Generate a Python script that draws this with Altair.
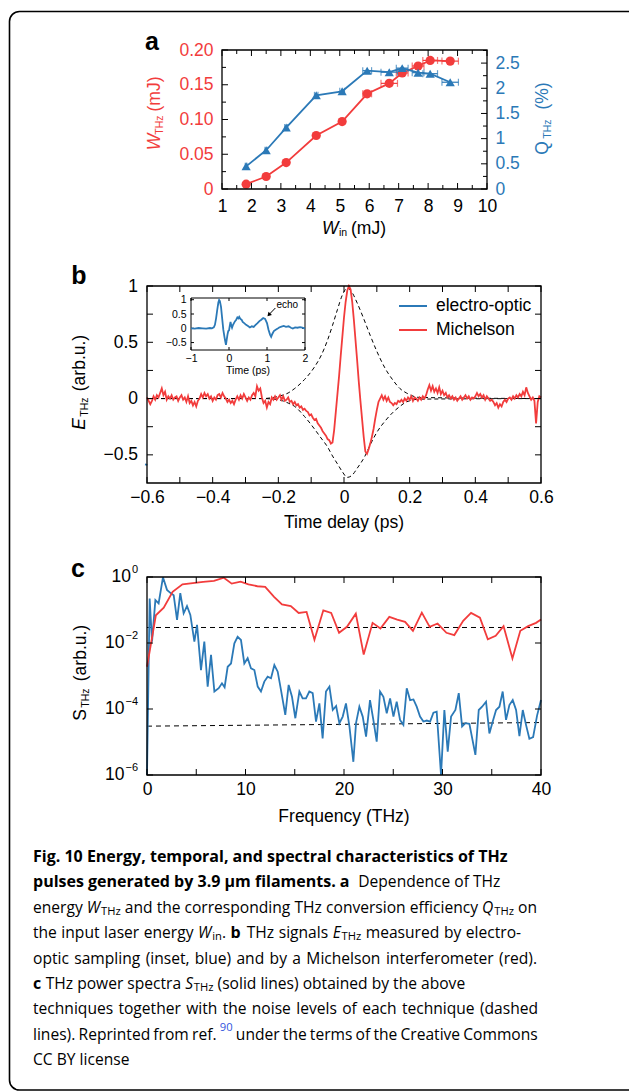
import altair as alt
import numpy as np
import pandas as pd

W, H = 629, 1092
RED = "#f23c3c"
BLUE = "#2b79b7"
PF = "Liberation Sans"
CF = "Open Sans"
LBL = 17.5

# ---------------- panel a data ----------------
A_WIN = [1.82, 2.50, 3.18, 4.20, 5.08, 5.93, 6.68, 7.12, 7.66, 8.07, 8.75]
A_WTHZ = [0.007, 0.018, 0.038, 0.077, 0.097, 0.137, 0.152, 0.167, 0.177, 0.185, 0.184]
A_QTHZ = [0.45, 0.77, 1.22, 1.86, 1.94, 2.35, 2.32, 2.40, 2.31, 2.29, 2.12]
A_XERR = [0.03, 0.04, 0.05, 0.06, 0.08, 0.15, 0.28, 0.20, 0.20, 0.25, 0.28]
A_X_TICKS = [1, 2, 3, 4, 5, 6, 7, 8, 9, 10]
A_X_MINOR = [1.5, 2.5, 3.5, 4.5, 5.5, 6.5, 7.5, 8.5, 9.5]
A_YL_TICKS = [0, 0.05, 0.10, 0.15, 0.20]
A_YL_MINOR = [0.025, 0.075, 0.125, 0.175]
A_YR_TICKS = [0, 0.5, 1, 1.5, 2, 2.5]
A_YR_MINOR = [0.25, 0.75, 1.25, 1.75, 2.25, 2.75]

# ---------------- panel b data ----------------
B_T_START, B_T_STEP = -0.6, 0.005
B_MICHELSON = [
    0.01, -0.02, -0.05, -0.02, 0.02, -0.01, 0.03, 0.01, 0.05, 0.09,
    0.03, 0.06, -0.01, 0.02, 0.00, 0.03, -0.01, 0.01, 0.02, -0.02,
    0.01, 0.03, -0.01, 0.01, -0.03, 0.02, -0.04, -0.02, -0.06, -0.03,
    -0.07, -0.02, 0.00, 0.04, 0.01, 0.05, 0.02, 0.04, 0.00, 0.02,
    -0.02, 0.01, -0.01, 0.03, 0.04, 0.01, 0.05, 0.02, 0.00, -0.03,
    -0.01, -0.04, -0.02, -0.05, -0.01, 0.02, -0.01, 0.03, 0.00, 0.04,
    0.01, -0.02, 0.01, -0.01, 0.03, 0.05, 0.02, 0.11, 0.07, 0.09,
    0.01, -0.04, -0.02, -0.08, -0.03, -0.05, 0.01, -0.01, 0.02, -0.01,
    0.01, 0.03, -0.01, 0.02, -0.02, -0.01, 0.01, -0.03, -0.02, -0.05,
    -0.03, -0.06, -0.05, -0.08, -0.07, -0.10, -0.09, -0.11, -0.12, -0.15,
    -0.14, -0.17, -0.19, -0.18, -0.22, -0.24, -0.26, -0.29, -0.31, -0.33,
    -0.36, -0.37, -0.40, -0.39, -0.28, -0.12, 0.04, 0.20, 0.38, 0.55,
    0.72, 0.86, 0.96, 1.00, 0.97, 0.86, 0.70, 0.52, 0.34, 0.15,
    -0.02, -0.18, -0.34, -0.47, -0.49, -0.45, -0.40, -0.34, -0.27, -0.18,
    -0.10, -0.03, 0.00, 0.03, -0.01, 0.02, -0.02, 0.01, -0.03, -0.04,
    -0.06, -0.04, -0.05, -0.02, -0.03, -0.01, -0.03, 0.00, -0.02, 0.01,
    -0.01, 0.02, -0.02, 0.01, 0.00, -0.02, 0.01, -0.01, 0.02, 0.00,
    0.03, 0.08, 0.12, 0.07, 0.11, 0.06, 0.09, 0.05, 0.10, 0.04,
    0.07, 0.03, 0.05, 0.01, 0.03, 0.00, 0.02, -0.01, 0.01, -0.02,
    0.00, 0.02, -0.01, 0.01, 0.03, 0.00, 0.02, -0.01, 0.01, 0.00,
    0.02, 0.05, 0.02, 0.04, 0.01, 0.03, -0.01, 0.02, 0.00, -0.02,
    -0.01, -0.03, -0.06, -0.04, -0.08, -0.05, -0.07, -0.03, -0.01, -0.03,
    0.00, 0.01, -0.01, 0.02, 0.00, 0.03, 0.01, 0.04, 0.02, 0.06,
    0.03, 0.10, 0.05, 0.02, -0.01, 0.01, -0.02, -0.22, -0.03, 0.02,
    0.01,
]
B_TIME = [round(B_T_START + i * B_T_STEP, 3) for i in range(len(B_MICHELSON))]
B_EO_T = [-0.606, -0.599]
B_EO_E = [-0.585, -0.59]
B_ENV_T = [-0.6, -0.25, -0.2, -0.17, -0.15, -0.12, -0.09, -0.07, -0.05, -0.035, -0.02,
           -0.005, 0.01, 0.025, 0.04, 0.064, 0.08, 0.1, 0.125, 0.15, 0.17, 0.19, 0.23, 0.6]
B_ENV_UP = [0, 0, 0.02, 0.05, 0.09, 0.17, 0.28, 0.38, 0.52, 0.65, 0.79,
            0.92, 0.98, 0.94, 0.85, 0.68, 0.56, 0.42, 0.27, 0.16, 0.09, 0.05, 0.01, 0]
B_ENV_LO = [0, 0, -0.01, -0.04, -0.07, -0.16, -0.27, -0.35, -0.43, -0.51, -0.58,
            -0.65, -0.70, -0.68, -0.62, -0.51, -0.41, -0.30, -0.20, -0.12, -0.07, -0.03, -0.005, 0]
B_X_TICKS = [-0.6, -0.4, -0.2, 0, 0.2, 0.4, 0.6]
B_X_MINOR = [-0.5, -0.3, -0.1, 0.1, 0.3, 0.5]
B_Y_TICKS = [-0.5, 0, 0.5, 1]
B_Y_MINOR = [-0.25, 0.25, 0.75]

INSET_T = [-1.0, -0.9, -0.8, -0.7, -0.6, -0.5, -0.45, -0.4, -0.37, -0.34, -0.31, -0.28, -0.26,
           -0.24, -0.21, -0.18, -0.15, -0.12, -0.1, -0.08, -0.06, -0.04, -0.02, 0.0, 0.02, 0.04,
           0.06, 0.08, 0.1, 0.13, 0.16, 0.19, 0.22, 0.25, 0.27, 0.3, 0.33, 0.36, 0.4, 0.45, 0.5,
           0.55, 0.6, 0.65, 0.7, 0.75, 0.8, 0.85, 0.9, 0.95, 1.0, 1.04, 1.08, 1.11, 1.14, 1.18,
           1.22, 1.27, 1.32, 1.38, 1.44, 1.5, 1.57, 1.63, 1.68, 1.74, 1.8, 1.87, 1.93, 2.0]
INSET_E = [0.0, -0.01, 0.01, 0.0, -0.01, 0.01, 0.0, 0.03, 0.12, 0.35, 0.64, 0.9, 0.99,
           0.95, 0.75, 0.35, -0.05, -0.3, -0.45, -0.58, -0.4, -0.22, -0.1, -0.08, 0.08, 0.22,
           0.1, 0.02, 0.1, 0.18, 0.25, 0.3, 0.38, 0.35, 0.4, 0.33, 0.3, 0.22, 0.18, 0.12, 0.08,
           0.03, 0.07, 0.05, 0.12, 0.18, 0.25, 0.3, 0.36, 0.33, 0.18, -0.05, -0.22, -0.3, -0.2, -0.1,
           -0.06, -0.02, 0.03, 0.06, 0.08, 0.05, 0.07, 0.02, -0.01, 0.03, 0.02, 0.04, 0.02, -0.01]
INSET_TICKS_X = [-1, 0, 1, 2]
INSET_TICKS_Y = [-0.5, 0, 0.5, 1]

# ---------------- panel c data (log10 of spectra) ----------------
C_MICH_F = [0, 0.9, 1.7, 2.6, 3.6, 5.7, 6.8, 7.8, 8.6, 9.5, 10.3, 11.2, 12.0, 12.9, 13.7, 14.6,
            15.4, 16.2, 17.0, 17.9, 18.7, 19.5, 20.3, 21.2, 22.0, 22.9, 23.7, 24.6, 25.4, 26.2,
            27.0, 27.9, 28.7, 29.5, 30.4, 31.2, 32.1, 32.9, 33.8, 34.6, 35.4, 36.2, 37.1, 37.9,
            38.7, 39.5, 40.0]
C_MICH_LOG = [-2.72, -1.16, -0.93, -0.45, -0.22, -0.15, -0.12, -0.02, -0.2, -0.14, -0.22, -0.28,
              -0.3, -0.6, -0.83, -0.88, -1.09, -1.06, -1.9, -1.01, -1.09, -1.69, -1.51, -1.11,
              -2.35, -1.39, -1.56, -1.21, -1.29, -1.36, -1.63, -1.08, -1.51, -1.41, -1.69, -1.76,
              -1.33, -1.09, -1.23, -1.89, -1.78, -1.49, -2.47, -1.63, -1.49, -1.39, -1.29]
C_EO_F = [0, 0.27, 0.51, 0.85, 1.18, 1.62, 2.03, 2.37, 2.71, 3.05, 3.38, 3.72, 4.06, 4.40, 4.81,
          5.08, 5.48, 5.82, 6.16, 6.50, 6.84, 7.28, 7.61, 7.88, 8.19, 8.53, 8.87, 9.20, 9.54, 9.88,
          10.22, 10.56, 10.90, 11.24, 11.57, 11.91, 12.25, 12.59, 12.93, 13.27, 13.60, 14.04,
          14.38, 14.72, 15.06, 15.47, 15.80, 16.14, 16.48, 16.82, 17.16, 17.50, 17.83, 18.17,
          18.52, 18.86, 19.2, 19.53, 19.87, 20.2, 20.55, 20.95, 21.22, 21.56, 21.9, 22.24, 22.64,
          22.98, 23.32, 23.66, 24.0, 24.34, 24.68, 25.02, 25.35, 25.69, 26.03, 26.37, 26.71,
          27.05, 27.38, 27.72, 28.06, 28.4, 28.74, 29.08, 29.41, 29.85, 30.19, 30.53, 30.87,
          31.31, 31.65, 31.99, 32.32, 32.73, 33.34, 33.68, 34.02, 34.42, 34.76, 35.1, 35.44,
          35.78, 36.11, 36.45, 36.79, 37.13, 37.47, 37.81, 38.15, 38.48, 38.82, 39.2, 39.6, 40.0]
C_EO_LOG = [-6.0, -0.65, -1.96, -0.70, -0.80, -0.01, -0.39, -0.48, -0.55, -1.30, -0.49, -1.10,
            -0.88, -1.15, -1.96, -1.45, -2.82, -1.96, -3.32, -2.36, -3.47, -3.37, -3.22, -3.34,
            -2.72, -2.62, -2.01, -1.81, -1.91, -2.62, -2.46, -2.77, -2.82, -3.32, -3.47, -3.17,
            -3.02, -3.07, -2.67, -2.87, -3.42, -4.18, -3.27, -3.63, -4.28, -3.47, -3.68, -3.68,
            -3.47, -3.52, -4.38, -3.83, -4.89, -3.47,
            -3.32, -4.03, -3.91, -4.43, -4.23, -3.83, -4.53, -5.60, -4.43, -3.93, -4.23, -4.84,
            -3.73, -4.33, -4.99, -3.47, -3.63, -4.13, -3.68, -4.23, -3.78, -4.33, -4.48, -3.37,
            -3.73, -3.71, -3.93, -4.23, -4.38, -4.35, -4.38, -4.11, -4.08, -6.0, -4.03, -5.29,
            -4.23, -4.03, -3.52, -4.53, -4.43, -4.45, -5.39, -4.03, -3.93, -3.78, -4.74, -4.38,
            -4.03, -3.93, -3.47, -4.33, -3.88, -3.73, -4.03, -4.82, -4.03, -4.48, -4.9, -4.85,
            -4.2, -3.73]
C_NOISE_F = [0, 40]
C_NOISE_MICH_LOG = [-1.53, -1.53]
C_NOISE_EO_LOG = [-4.52, -4.41]
C_X_TICKS = [0, 10, 20, 30, 40]
C_X_MINOR = [5, 15, 25, 35]
C_Y_DECADES = [0, -2, -4, -6]

# ---------------- geometry (plot areas, pixels) ----------------
A_PX, A_PY = [222, 487], [189, 50]
B_PX, B_PY = [147, 541], [483, 286]
I_PX, I_PY = [191, 305], [350, 298]
C_PX, C_PY = [147, 541], [775, 577]


def lin(dom, rng):
    return alt.Scale(domain=dom, range=rng, nice=False, zero=False)


AX, AYL, AYR = lin([1, 10], A_PX), lin([0, 0.2], A_PY), lin([0, 2.76], A_PY)
BX, BY = lin([-0.6, 0.6], B_PX), lin([-0.75, 1.0], B_PY)
IX, IY = lin([-1, 2], I_PX), lin([-0.76, 1.06], I_PY)
CX = lin([0, 40], C_PX)
CY = alt.Scale(type="log", domain=[1e-6, 1], range=C_PY, nice=False)


def lab_axis(orient, offset, values, size=LBL, color="black", pad=8, expr="format(datum.value, '~g')"):
    return alt.Axis(orient=orient, offset=offset, values=values, labelFontSize=size, labelFont=PF,
                    labelColor=color, labelPadding=pad, domain=False, ticks=False, grid=False,
                    title=None, labelExpr=expr, labelFlush=False, labelOverlap=False)


def box(xs, ys, xd, yd, xaxis=None, yaxis=None, white=False, sw=1.3):
    df = pd.DataFrame({"x0": [xd[0]], "x1": [xd[1]], "y0": [yd[0]], "y1": [yd[1]]})
    mk = dict(stroke="black", strokeWidth=sw)
    if white:
        mk["fill"] = "white"
    else:
        mk["fillOpacity"] = 0
    return alt.Chart(df).mark_rect(**mk).encode(
        x=alt.X("x0:Q", scale=xs, axis=xaxis), x2="x1:Q",
        y=alt.Y("y0:Q", scale=ys, axis=yaxis), y2="y1:Q")


def xticks(vals, xs, y_edge, length):
    return alt.Chart(pd.DataFrame({"v": vals})).mark_rule(color="black", strokeWidth=1).encode(
        x=alt.X("v:Q", scale=xs, axis=None), y=alt.value(y_edge), y2=alt.value(y_edge + length))


def yticks(vals, ys, x_edge, length, axis=None):
    return alt.Chart(pd.DataFrame({"v": vals})).mark_rule(color="black", strokeWidth=1).encode(
        y=alt.Y("v:Q", scale=ys, axis=axis), x=alt.value(x_edge), x2=alt.value(x_edge + length))


def ptext(rows, **mk):
    df = pd.DataFrame(rows, columns=["x", "y", "text"])
    return alt.Chart(df).mark_text(**mk).encode(
        x=alt.X("x:Q", scale=None, axis=None), y=alt.Y("y:Q", scale=None, axis=None), text="text:N")


layers = []

# frame
layers.append(alt.Chart(pd.DataFrame({"k": [0]})).mark_rect(
    cornerRadius=10, fillOpacity=0, stroke="black", strokeWidth=1.6).encode(
    x=alt.value(9.5), x2=alt.value(720), y=alt.value(11.5), y2=alt.value(1090)))

# ================= panel a =================
dfa = pd.DataFrame({"win": A_WIN, "w": A_WTHZ, "q": A_QTHZ,
                    "lo": [a - e for a, e in zip(A_WIN, A_XERR)],
                    "hi": [a + e for a, e in zip(A_WIN, A_XERR)]})
for field, ys, color, shape in [("w", AYL, RED, "circle"), ("q", AYR, BLUE, "triangle-up")]:
    base = alt.Chart(dfa)
    layers.append(base.mark_rule(color=color, strokeWidth=1.2).encode(
        x=alt.X("lo:Q", scale=AX, axis=None), x2="hi:Q", y=alt.Y(f"{field}:Q", scale=ys, axis=None)))
    for end in ["lo", "hi"]:
        layers.append(base.mark_tick(orient="vertical", color=color, size=7, thickness=1.2).encode(
            x=alt.X(f"{end}:Q", scale=AX, axis=None), y=alt.Y(f"{field}:Q", scale=ys, axis=None)))
    layers.append(base.mark_line(color=color, strokeWidth=1.8).encode(
        x=alt.X("win:Q", scale=AX, axis=None), y=alt.Y(f"{field}:Q", scale=ys, axis=None)))
    layers.append(base.mark_point(shape=shape, filled=True, size=85, color=color, opacity=1).encode(
        x=alt.X("win:Q", scale=AX, axis=None), y=alt.Y(f"{field}:Q", scale=ys, axis=None)))

layers.append(box(AX, AYL, [1, 10], [0, 0.2],
                  xaxis=lab_axis("bottom", A_PY[0] - H, A_X_TICKS, pad=8.5),
                  yaxis=lab_axis("left", -A_PX[0], A_YL_TICKS, color=RED, pad=9,
                                 expr="datum.value == 0 ? '0' : format(datum.value, '.2f')")))
layers += [xticks(A_X_TICKS, AX, A_PY[0], -6), xticks(A_X_MINOR, AX, A_PY[0], -4),
           xticks(A_X_TICKS, AX, A_PY[1], 6), xticks(A_X_MINOR, AX, A_PY[1], 4),
           yticks(A_YL_TICKS, AYL, A_PX[0], 6), yticks(A_YL_MINOR, AYL, A_PX[0], 4),
           yticks(A_YR_TICKS, AYR, A_PX[1], -6,
                  axis=lab_axis("right", A_PX[1] - W, A_YR_TICKS, color=BLUE, pad=8)),
           yticks(A_YR_MINOR, AYR, A_PX[1], -4)]

# ================= panel b =================
dfe = pd.DataFrame({"t": B_ENV_T, "up": B_ENV_UP, "lo": B_ENV_LO})
for f in ["up", "lo"]:
    layers.append(alt.Chart(dfe).mark_line(color="black", strokeWidth=1, strokeDash=[4, 3],
                                           interpolate="monotone").encode(
        x=alt.X("t:Q", scale=BX, axis=None), y=alt.Y(f"{f}:Q", scale=BY, axis=None)))

dfb = pd.DataFrame({"t": B_TIME + B_EO_T, "e": B_MICHELSON + B_EO_E,
                    "series": ["Michelson"] * len(B_MICHELSON) + ["electro-optic"] * len(B_EO_T)})
layers.append(alt.Chart(dfb).mark_line(strokeWidth=1.8).encode(
    x=alt.X("t:Q", scale=BX, axis=None), y=alt.Y("e:Q", scale=BY, axis=None),
    color=alt.Color("series:N", scale=alt.Scale(domain=["electro-optic", "Michelson"], range=[BLUE, RED]),
                    legend=alt.Legend(orient="none", legendX=398, legendY=291, title=None,
                                      symbolType="stroke", symbolSize=784, symbolStrokeWidth=2,
                                      labelFontSize=LBL, labelFont=PF, labelColor="black",
                                      labelOffset=8, rowPadding=0, padding=0, labelLimit=300))))

layers.append(box(BX, BY, [-0.6, 0.6], [-0.75, 1.0],
                  xaxis=lab_axis("bottom", B_PY[0] - H, B_X_TICKS, pad=5.5),
                  yaxis=lab_axis("left", -B_PX[0], B_Y_TICKS, pad=9.5)))
layers += [xticks(B_X_TICKS, BX, B_PY[0], -6), xticks(B_X_MINOR, BX, B_PY[0], -6),
           xticks(B_X_TICKS, BX, B_PY[1], 6), xticks(B_X_MINOR, BX, B_PY[1], 6),
           yticks(B_Y_TICKS, BY, B_PX[0], 6), yticks(B_Y_MINOR, BY, B_PX[0], 6),
           yticks(B_Y_TICKS, BY, B_PX[1], -6), yticks(B_Y_MINOR, BY, B_PX[1], -6)]

# inset
layers.append(box(IX, IY, [-1, 2], [-0.76, 1.06], white=True, sw=1,
                  xaxis=lab_axis("bottom", I_PY[0] - H, INSET_TICKS_X, size=10.5, pad=3.5),
                  yaxis=lab_axis("left", -I_PX[0], INSET_TICKS_Y, size=10.5, pad=5)))
layers += [xticks(INSET_TICKS_X, IX, I_PY[0], -3), xticks(INSET_TICKS_X, IX, I_PY[1], 3),
           yticks(INSET_TICKS_Y, IY, I_PX[0], 3), yticks(INSET_TICKS_Y, IY, I_PX[1], -3)]
dfi = pd.DataFrame({"t": INSET_T, "e": INSET_E})
layers.append(alt.Chart(dfi).mark_line(color=BLUE, strokeWidth=1.8).encode(
    x=alt.X("t:Q", scale=IX, axis=None), y=alt.Y("e:Q", scale=IY, axis=None)))
dfarrow = pd.DataFrame({"t": [1.22, 1.06], "e": [0.71, 0.49]})
layers.append(alt.Chart(dfarrow).mark_line(color="black", strokeWidth=1).encode(
    x=alt.X("t:Q", scale=IX, axis=None), y=alt.Y("e:Q", scale=IY, axis=None)))
layers.append(alt.Chart(pd.DataFrame({"t": [1.06], "e": [0.49]})).mark_point(
    shape="triangle", filled=True, size=22, color="black", opacity=1, angle=223).encode(
    x=alt.X("t:Q", scale=IX, axis=None), y=alt.Y("e:Q", scale=IY, axis=None)))
layers.append(alt.Chart(pd.DataFrame({"t": [1.25], "e": [0.8], "s": ["echo"]})).mark_text(
    font=PF, fontSize=10, align="left", baseline="middle").encode(
    x=alt.X("t:Q", scale=IX, axis=None), y=alt.Y("e:Q", scale=IY, axis=None), text="s:N"))
layers.append(ptext([(248, 371, "Time (ps)")], font=PF, fontSize=10.5, align="center", baseline="middle"))

# ================= panel c =================
dfn = pd.DataFrame({"f": C_NOISE_F, "m": [10 ** v for v in C_NOISE_MICH_LOG],
                    "e": [10 ** v for v in C_NOISE_EO_LOG]})
for f in ["m", "e"]:
    layers.append(alt.Chart(dfn).mark_line(color="black", strokeWidth=1, strokeDash=[5, 4]).encode(
        x=alt.X("f:Q", scale=CX, axis=None), y=alt.Y(f"{f}:Q", scale=CY, axis=None)))
dfc_eo = pd.DataFrame({"f": C_EO_F, "s": [10 ** v for v in C_EO_LOG]})
dfc_m = pd.DataFrame({"f": C_MICH_F, "s": [10 ** v for v in C_MICH_LOG]})
layers.append(alt.Chart(dfc_eo).mark_line(color=BLUE, strokeWidth=1.8).encode(
    x=alt.X("f:Q", scale=CX, axis=None), y=alt.Y("s:Q", scale=CY, axis=None)))
layers.append(alt.Chart(dfc_m).mark_line(color=RED, strokeWidth=1.8).encode(
    x=alt.X("f:Q", scale=CX, axis=None), y=alt.Y("s:Q", scale=CY, axis=None)))
layers.append(box(CX, CY, [0, 40], [1e-6, 1],
                  xaxis=lab_axis("bottom", C_PY[0] - H, C_X_TICKS, pad=5.5)))
dec_vals = [10.0 ** d for d in C_Y_DECADES]
layers += [xticks(C_X_TICKS, CX, C_PY[0], -6), xticks(C_X_MINOR, CX, C_PY[0], -6),
           xticks(C_X_TICKS, CX, C_PY[1], 6), xticks(C_X_MINOR, CX, C_PY[1], 6),
           yticks(dec_vals, CY, C_PX[0], 6), yticks(dec_vals, CY, C_PX[1], -6)]
exp_txt = ["0" if d == 0 else "\u2212" + str(-d) for d in C_Y_DECADES]
dfy = pd.DataFrame({"v": dec_vals, "base": ["10"] * 4, "exp": exp_txt,
                    "bx": [131.0 if d == 0 else 124.5 for d in C_Y_DECADES]})
layers.append(alt.Chart(dfy).mark_text(font=PF, fontSize=LBL, align="right", baseline="middle").encode(
    x=alt.X("bx:Q", scale=None, axis=None), y=alt.Y("v:Q", scale=CY, axis=None), text="base:N"))
layers.append(alt.Chart(dfy).mark_text(font=PF, fontSize=11, align="right", baseline="middle", dy=-7).encode(
    x=alt.value(138), y=alt.Y("v:Q", scale=CY, axis=None), text="exp:N"))

# ================= titles & panel letters =================
layers.append(ptext([(152, 42, "a"), (79, 276, "b"), (78, 569, "c")],
                    font=PF, fontSize=25, fontWeight="bold", align="center", baseline="middle"))
# rotated y titles (panel b, c: black)
layers.append(ptext([(80, 424, "E")], font=PF, fontSize=LBL, fontStyle="italic",
                    angle=270, align="center", baseline="middle"))
layers.append(ptext([(81, 715, "S")], font=PF, fontSize=LBL, angle=270, align="center", baseline="middle"))
layers.append(ptext([(80, 363, "(arb.u.)"), (81, 653, "(arb.u.)")],
                    font=PF, fontSize=LBL, angle=270, align="center", baseline="middle"))
layers.append(ptext([(85, 407, "THz"), (86, 698, "THz")],
                    font=PF, fontSize=10.5, angle=270, align="center", baseline="middle"))
# panel a y titles (red left, blue right)
layers.append(ptext([(155, 142, "W")], font=PF, fontSize=LBL, fontStyle="italic", angle=270,
                    align="center", baseline="middle", color=RED))
layers.append(ptext([(155, 94, "(mJ)")], font=PF, fontSize=LBL, angle=270, align="center",
                    baseline="middle", color=RED))
layers.append(ptext([(160, 125, "THz")], font=PF, fontSize=10.5, angle=270, align="center",
                    baseline="middle", color=RED))
layers.append(ptext([(543, 148, "Q"), (543, 96, "(%)")], font=PF, fontSize=LBL, angle=270,
                    align="center", baseline="middle", color=BLUE))
layers.append(ptext([(548, 129, "THz")], font=PF, fontSize=10.5, angle=270, align="center",
                    baseline="middle", color=BLUE))
# x titles
layers.append(ptext([(322, 229, "W")], font=PF, fontSize=LBL, fontStyle="italic", align="left", baseline="middle"))
layers.append(ptext([(339, 233, "in")], font=PF, fontSize=10.5, align="left", baseline="middle"))
layers.append(ptext([(351, 229, "(mJ)")], font=PF, fontSize=LBL, align="left", baseline="middle"))
layers.append(ptext([(344, 523, "Time delay (ps)"), (344, 817, "Frequency (THz)")],
                    font=PF, fontSize=LBL, align="center", baseline="middle"))

# ================= caption =================
EM = {' ': .26, 'a': .556, 'b': .613, 'c': .476, 'd': .613, 'e': .561, 'f': .339, 'g': .548, 'h': .614,
      'i': .253, 'j': .253, 'k': .525, 'l': .253, 'm': .930, 'n': .614, 'o': .604, 'p': .613, 'q': .613,
      'r': .408, 's': .477, 't': .353, 'u': .614, 'v': .501, 'w': .778, 'x': .524, 'y': .502, 'z': .477,
      'A': .633, 'B': .648, 'C': .631, 'D': .729, 'E': .556, 'F': .516, 'G': .728, 'H': .738, 'I': .279,
      'M': .903, 'Q': .779, 'R': .618, 'S': .536, 'T': .549, 'W': .907, 'Y': .556, '.': .266, ',': .244,
      '-': .322, '(': .291, ')': .291, 'μ': .62}
for dgt in "0123456789":
    EM[dgt] = .572
CAP_SIZE = {"r": 15.6, "b": 16, "i": 15.6, "s": 11.2, "u": 11.2}
CAP_DY = {"r": 0, "b": 0, "i": 0, "s": 4, "u": -7}
CAP_LINES = [
    [("Fig. 10 Energy, temporal, and spectral characteristics of THz", "b")],
    [("pulses generated by 3.9 μm filaments. a ", "b"), ("Dependence of THz", "r")],
    [("energy ", "r"), ("W", "i"), ("THz", "s"), (" and the corresponding THz conversion efficiency ", "r"),
     ("Q", "i"), ("THz", "s"), (" on", "r")],
    [("the input laser energy ", "r"), ("W", "i"), ("in", "s"), (". ", "r"), ("b ", "b"),
     ("THz signals ", "r"), ("E", "i"), ("THz", "s"), (" measured by electro-", "r")],
    [("optic sampling (inset, blue) and by a Michelson interferometer (red).", "r")],
    [("c ", "b"), ("THz power spectra ", "r"), ("S", "i"), ("THz", "s"), (" (solid lines) obtained by the above", "r")],
    [("techniques together with the noise levels of each technique (dashed", "r")],
    [("lines). Reprinted from ref. ", "r"), ("90", "u"), (" under the terms of the Creative Commons", "r")],
    [("CC BY license", "r")],
]
CAP_JUSTIFY = {2: 537, 3: 521, 4: 537, 6: 538, 7: 538}   # right edge of justified lines
CAP_X0, CAP_Y0, CAP_LH = 33, 857, 25.4


def tw(s, st, justified):
    bold_factor = 1.12 if justified else 1.08
    return sum(EM.get(ch, .55) for ch in s) * CAP_SIZE[st] * (bold_factor if st == "b" else 1.0)


cap_rows = {k: [] for k in CAP_SIZE}
for li, segs in enumerate(CAP_LINES):
    y = CAP_Y0 + li * CAP_LH
    just = li in CAP_JUSTIFY
    tokens = []
    if just:
        for text, st in segs:
            parts = text.split(" ")
            for pi, p in enumerate(parts):
                if pi > 0:
                    tokens.append(("s", " ", st))
                if p:
                    tokens.append(("w", p, st))
    else:
        for text, st in segs:
            core = text.strip(" ")
            lead = len(text) - len(text.lstrip(" "))
            trail = len(text) - len(text.rstrip(" "))
            if lead:
                tokens.append(("s", " ", st))
            tokens.append(("w", core, st))
            if trail:
                tokens.append(("s", " ", st))
    natural = sum(tw(t, st, just) for k, t, st in tokens)
    nsp = sum(1 for k, t, st in tokens if k == "s")
    extra = 0.0
    if just and nsp:
        extra = max(-1.0, (CAP_JUSTIFY[li] - CAP_X0 - natural) / nsp)
    x = CAP_X0
    for k, t, st in tokens:
        if k == "s":
            x += tw(" ", st, just) + extra
        else:
            cap_rows[st].append((x, y + CAP_DY[st], t))
            x += tw(t, st, just)

layers.append(ptext(cap_rows["r"], font=CF, fontSize=CAP_SIZE["r"], align="left", baseline="middle"))
layers.append(ptext(cap_rows["b"], font=CF, fontSize=CAP_SIZE["b"], fontWeight="bold", align="left", baseline="middle"))
layers.append(ptext(cap_rows["i"], font=CF, fontSize=CAP_SIZE["i"], fontStyle="italic", align="left", baseline="middle"))
layers.append(ptext(cap_rows["s"], font=CF, fontSize=CAP_SIZE["s"], align="left", baseline="middle"))
layers.append(ptext(cap_rows["u"], font=CF, fontSize=CAP_SIZE["u"], align="left", baseline="middle", color="#3355dd"))

chart = alt.layer(*layers).resolve_scale(x="independent", y="independent").properties(
    width=W, height=H, autosize=alt.AutoSizeParams(type="none"),
    padding={"left": 0, "right": 0, "top": 0, "bottom": 0}, background="white"
).configure_view(stroke="transparent")

chart.save("out.html", embed_options={"renderer": "svg", "actions": False})
